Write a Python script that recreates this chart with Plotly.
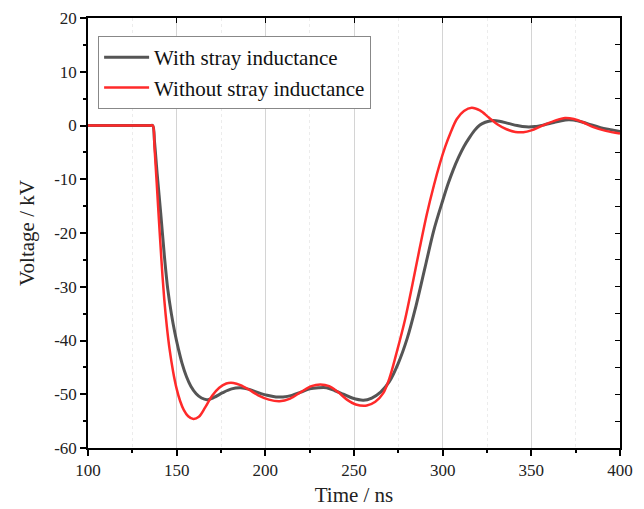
import plotly.graph_objects as go

# Time (ns) and voltage (kV)
t_with = [100, 135, 136.5, 137.5, 139, 141, 143, 145, 147, 149, 151, 153, 155.5, 158, 161, 164, 167,
          171, 176, 181, 186, 191, 196, 201, 206, 210, 215, 220, 225, 230, 234.5, 239, 244, 249,
          255.3, 260, 265, 270, 275, 280, 285, 290, 295, 300, 303, 306, 309, 312, 315, 318,
          321, 324, 327.7, 332, 337, 342, 347, 352, 357, 362, 367, 371, 376, 382, 389, 400]
v_with = [0, 0, 0, -3, -9, -16.3, -24, -30.5, -35, -38.6, -41.6, -44.2, -46.7, -48.5, -49.9, -50.7, -51.0,
          -50.6, -49.7, -49.0, -48.8, -49.1, -49.7, -50.2, -50.5, -50.5, -50.2, -49.6, -49.0, -48.8, -48.8, -49.3, -50.0, -50.7,
          -51.1, -50.7, -49.6, -47.6, -44.2, -39.6, -33.5, -26.5, -19.5, -14, -10.9, -8.2, -5.9, -3.9, -2.3, -0.9,
          0.1, 0.6, 0.9, 0.8, 0.4, 0, -0.25, -0.2, 0.1, 0.5, 0.9, 1.05, 0.9, 0.3, -0.4, -1.1]

t_without = [100, 135, 136.5, 137.5, 139.7, 141.5, 143, 144.5, 146, 148, 150, 152, 154, 156.5, 159.4, 162.5, 166,
             170, 174, 178, 182, 186, 191, 196, 202, 208, 214, 220, 226, 231, 236, 241, 246, 251,
             257.2, 262, 266.5, 270, 274, 278.8, 283, 287, 291, 295, 298.5, 301.5, 304.5, 308, 312,
             316.4, 321, 326, 331, 336, 341, 345.5, 350, 355, 360, 365, 369, 374, 379, 385, 392, 400]
v_without = [0, 0, 0, -4, -16, -25.5, -32.3, -37.5, -41.6, -45.8, -49, -51.3, -52.9, -54.1, -54.6, -54.2, -52.5,
             -50.3, -48.8, -48.0, -47.9, -48.3, -49.2, -50.2, -51.0, -51.3, -50.8, -49.6, -48.5, -48.2, -48.5, -49.6, -51, -51.9,
             -52.1, -51.4, -49.8, -47, -42.3, -36.1, -29.5, -22.9, -16.6, -11.2, -7.0, -3.9, -1.3, 1.2, 2.7,
             3.3, 2.8, 1.5, 0.2, -0.7, -1.2, -1.25, -0.9, -0.2, 0.5, 1.1, 1.4, 1.2, 0.6, -0.3, -1.0, -1.5]

x_ticks = [100, 150, 200, 250, 300, 350, 400]
y_ticks = [-60, -50, -40, -30, -20, -10, 0, 10, 20]
y_labels = ["-60", "-50", "-40", "-30", "-20", "-10", "0", "10", "20"]

serif = "Liberation Serif"

fig = go.Figure()
fig.add_trace(go.Scatter(x=t_with, y=v_with, mode="lines", name="With stray inductance",
                         line=dict(color="#555555", width=3, shape="spline", smoothing=0.9)))
fig.add_trace(go.Scatter(x=t_without, y=v_without, mode="lines", name="Without stray inductance",
                         line=dict(color="#ff2a2a", width=2.5, shape="spline", smoothing=0.9)))
# dummy trace so the mirrored top/right axes get drawn
fig.add_trace(go.Scatter(x=[None], y=[None], xaxis="x2", yaxis="y2", showlegend=False, hoverinfo="skip"))

# page body has an 8px margin, so the figure is a bit smaller than the window
fig.update_layout(
    width=636, height=501,
    margin=dict(l=80, r=24, t=10, b=61),
    paper_bgcolor="white", plot_bgcolor="white",
    font=dict(family=serif, size=17, color="#222222"),
    showlegend=True,
    legend=dict(x=0.019, y=0.958, xanchor="left", yanchor="top", itemwidth=45,
                bgcolor="white", bordercolor="#888888", borderwidth=1,
                font=dict(size=21, family=serif, color="#111111")),
    xaxis=dict(range=[100, 400], tickvals=x_ticks, showline=True, linecolor="black", linewidth=1.5,
               ticks="outside", ticklen=6, tickwidth=1.5, tickcolor="black", automargin=False,
               ticklabeloverflow="allow",
               showgrid=True, gridcolor="#d4d4d4", gridwidth=1, zeroline=False,
               minor=dict(dtick=25, ticks="outside", ticklen=3, tickcolor="black",
                          showgrid=True, gridcolor="#ececec", griddash="dot"),
               title=dict(text="Time / ns", font=dict(size=21), standoff=8)),
    yaxis=dict(range=[-60, 20], tickvals=y_ticks, ticktext=y_labels, showline=True, linecolor="black",
               linewidth=1.5, ticks="outside", ticklen=6, tickwidth=1.5, tickcolor="black",
               automargin=False, ticklabeloverflow="allow", showgrid=False, zeroline=False,
               minor=dict(dtick=5, ticks="outside", ticklen=3, tickcolor="black"),
               title=dict(text="Voltage / kV", font=dict(size=21), standoff=14)),
    xaxis2=dict(overlaying="x", side="top", range=[100, 400], tickvals=x_ticks, showticklabels=False,
                showline=True, linecolor="black", linewidth=1.5, ticks="inside", ticklen=5,
                tickcolor="black", showgrid=False, zeroline=False, automargin=False),
    yaxis2=dict(overlaying="y", side="right", range=[-60, 20], dtick=5, showticklabels=False,
                showline=True, linecolor="black", linewidth=1.5, ticks="inside", ticklen=5,
                tickcolor="black", showgrid=False, zeroline=False, automargin=False),
)

fig.write_html("out.html")
